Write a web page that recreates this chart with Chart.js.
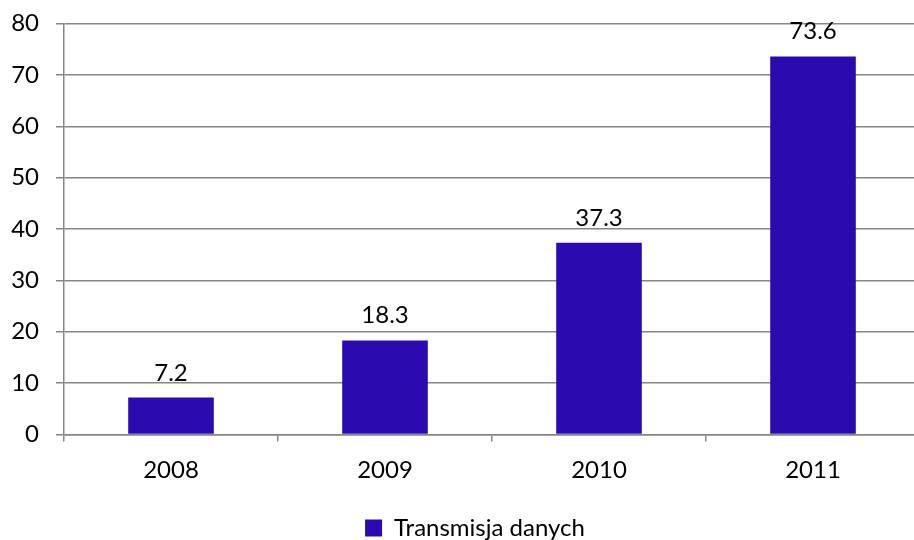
<!DOCTYPE html>
<html>
<head>
<meta charset="utf-8">
<script src="https://cdn.jsdelivr.net/npm/chart.js@4.4.1/dist/chart.umd.min.js"></script>
<style>
  html, body { margin: 0; padding: 0; background: #fff; overflow: hidden; }
  #wrap { width: 920px; height: 550px; }
</style>
</head>
<body>
<div id="wrap"><canvas id="chart" width="920" height="550"></canvas></div>
<script>
// values
const years = ["2008", "2009", "2010", "2011"]
const transmisja = [7.2, 18.3, 37.3, 73.6]
const seriesName = "Transmisja danych"

const gridGray = "#868686"
const barBlue = "#2B0AAF"
const font = "Lato"

// draw the value above each bar
const valueLabels = {
  id: "valueLabels",
  afterDatasetsDraw(chart) {
    const ctx = chart.ctx
    ctx.save()
    ctx.font = "24px " + font
    ctx.fillStyle = "#000"
    ctx.textAlign = "center"
    ctx.textBaseline = "alphabetic"
    chart.getDatasetMeta(0).data.forEach((bar, i) => {
      ctx.fillText(transmisja[i].toFixed(1), bar.x, bar.y - 17)
    })
    ctx.restore()
  }
}

// the legend sits a bit right of the canvas centre in the original
const shiftLegend = {
  id: "shiftLegend",
  afterLayout(chart) {
    chart.legend.left += 15
    chart.legend.right += 15
  }
}

new Chart(document.getElementById("chart"), {
  type: "bar",
  data: {
    labels: years,
    datasets: [{
      label: seriesName,
      data: transmisja,
      backgroundColor: barBlue,
      borderWidth: 0,
      categoryPercentage: 1,
      barPercentage: 0.4
    }]
  },
  options: {
    responsive: false,
    animation: false,
    layout: { padding: { left: 0, right: 0, top: 23.5, bottom: 0 } },
    plugins: {
      legend: {
        position: "bottom",
        labels: {
          boxWidth: 17,
          boxHeight: 17,
          padding: 7,
          color: "#000",
          font: { family: font, size: 24 }
        }
      },
      tooltip: { enabled: false }
    },
    scales: {
      x: {
        afterFit(scale) {
          scale.height = 74.5
          scale.paddingLeft = 0
          scale.paddingRight = 0
        },
        grid: {
          offset: true,
          drawOnChartArea: false,
          tickLength: 7,
          color: gridGray,
          lineWidth: 1.5
        },
        border: { color: gridGray, width: 1.5 },
        ticks: { color: "#000", padding: 14, font: { family: font, size: 24 } }
      },
      y: {
        min: 0,
        max: 80,
        afterFit(scale) {
          scale.width = 64
          scale.paddingTop = 0
          scale.paddingBottom = 0
        },
        grid: { color: gridGray, lineWidth: 1.5, tickLength: 8 },
        border: { color: gridGray, width: 1.5 },
        ticks: { stepSize: 10, color: "#000", padding: 17, font: { family: font, size: 24 } }
      }
    }
  },
  plugins: [valueLabels, shiftLegend]
})
</script>
</body>
</html>
